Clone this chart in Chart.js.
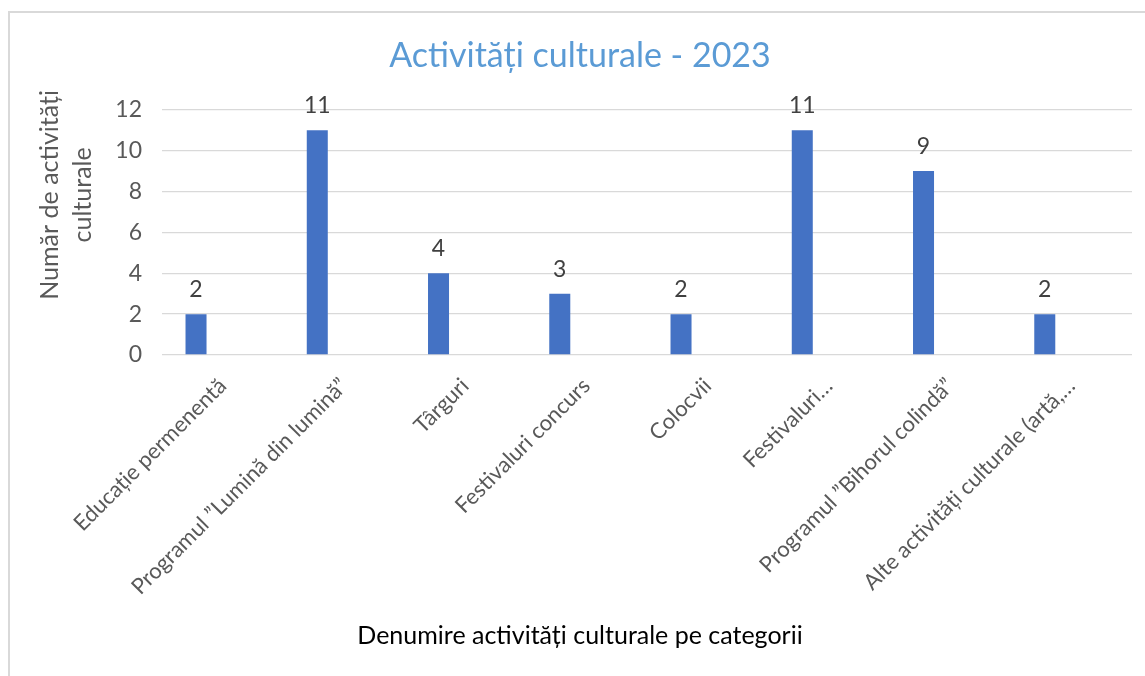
<!DOCTYPE html>
<html>
<head>
<meta charset="utf-8">
<script src="https://cdn.jsdelivr.net/npm/chart.js@4"></script>
<style>
  html, body { margin: 0; padding: 0; background: #fff; }
  #wrap { position: relative; width: 1145px; height: 676px; overflow: hidden; }
  #frame { position: absolute; left: 8px; top: 11px; width: 1200px; height: 720px;
           border-left: 2px solid #d9d9d9; border-top: 2px solid #d9d9d9; }
  #myChart { position: absolute; left: 0; top: 0; }
</style>
</head>
<body>
<div id="wrap">
  <div id="frame"></div>
  <canvas id="myChart" width="1145" height="676"></canvas>
</div>
<script>
const categories = [
  'Educație permenentă',
  'Programul ”Lumină din lumină”',
  'Târguri',
  'Festivaluri concurs',
  'Colocvii',
  'Festivaluri…',
  'Programul ”Bihorul colindă”',
  'Alte activități culturale (artă,…'
];
const activityCounts = [2, 11, 4, 3, 2, 11, 9, 2];
// the excel chart had a second, empty series which pushes the bars left of centre
const emptySeries = [null, null, null, null, null, null, null, null];
const yTicks = [0, 2, 4, 6, 8, 10, 12];

const FONT = 'Lato, "Open Sans", sans-serif';
// leading en spaces push the rotated y title lines upward, like in the original
const PAD = '\u2002\u2002\u2002\u2002\u2002\u2002';

// small stand-in for the datalabels plugin (not available offline)
const valueLabels = {
  id: 'valueLabels',
  afterDatasetsDraw(chart) {
    const ctx = chart.ctx;
    const meta = chart.getDatasetMeta(0);
    ctx.save();
    ctx.font = '23px ' + FONT;
    ctx.fillStyle = '#404040';
    ctx.textAlign = 'center';
    ctx.textBaseline = 'bottom';
    meta.data.forEach((bar, i) => {
      ctx.fillText(String(activityCounts[i]), bar.x, bar.y - 13);
    });
    ctx.restore();
  }
};

const data = {
  labels: categories,
  datasets: [{
      label: 'Număr de activități',
      data: activityCounts,
      backgroundColor: '#4472C4',
      borderWidth: 0,
      categoryPercentage: 0.8775,
      barPercentage: 0.395,
  }, {
      label: '',
      data: emptySeries,
      backgroundColor: '#ED7D31',
      categoryPercentage: 0.8775,
      barPercentage: 0.395,
  }],
};

const config = {
  type: 'bar',
  data: data,
  options: {
      responsive: false,
      animation: false,
      layout: { padding: { left: 28, right: 13, top: 0, bottom: 0 } },
      plugins: {
          legend: { display: false },
          tooltip: { enabled: false },
          title: {
              display: true,
              text: 'Activități culturale - 2023',
              color: '#5B9BD5',
              font: { family: FONT, size: 34, weight: 'normal', lineHeight: 1.2 },
              padding: { top: 36, bottom: 33 },
          },
          subtitle: {
              display: true,
              position: 'bottom',
              text: 'Denumire activități culturale pe categorii',
              color: '#000000',
              font: { family: FONT, size: 25, lineHeight: 1.2 },
              padding: { top: 10, bottom: 25 },
          },
      },
      scales: {
          x: {
              grid: { display: false },
              border: { display: false },
              ticks: {
                  color: '#595959',
                  font: { family: FONT, size: 22 },
                  autoSkip: false,
                  maxRotation: 45,
                  minRotation: 45,
                  padding: 10,
              },
              afterFit(scale) { scale.height = 256; },
          },
          y: {
              min: 0,
              max: 12,
              afterBuildTicks(scale) { scale.ticks = yTicks.map(v => ({ value: v })); },
              grid: { color: '#d9d9d9', lineWidth: 1.3, drawTicks: false },
              border: { display: false },
              ticks: {
                  color: '#595959',
                  font: { family: FONT, size: 23 },
                  padding: 20,
              },
              title: {
                  display: true,
                  text: [PAD + 'Număr de activități', PAD + 'culturale'],
                  color: '#595959',
                  font: { family: FONT, size: 25, lineHeight: 1.3 },
                  padding: { top: 6, bottom: 0 },
              },
              afterFit(scale) { scale.width = 134; },
          },
      },
  },
  plugins: [valueLabels],
};

const ctx = document.getElementById('myChart');
const myChart = new Chart(ctx, config);
</script>
</body>
</html>
